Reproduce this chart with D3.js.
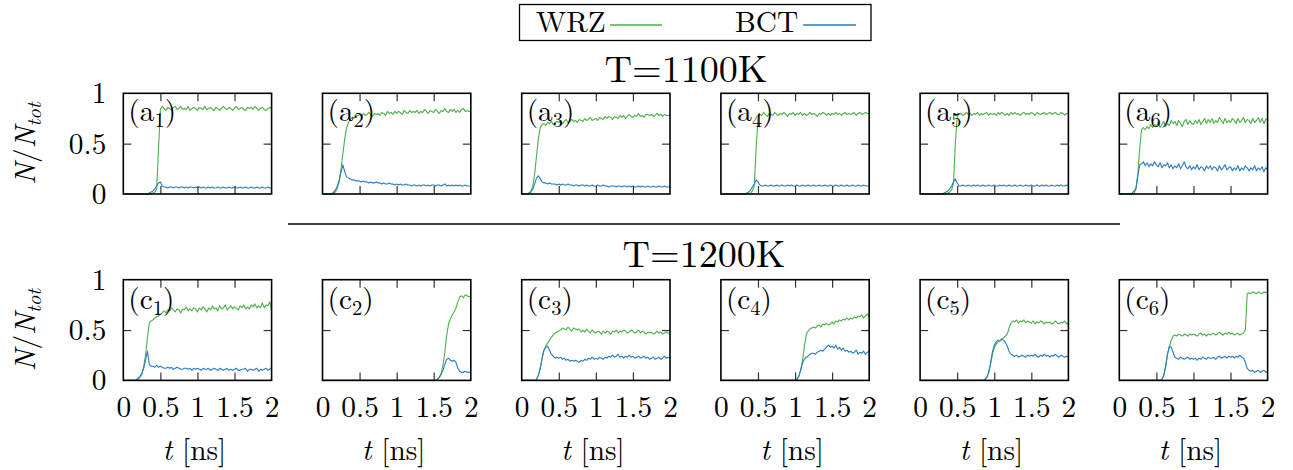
<!DOCTYPE html>
<html><head><meta charset="utf-8">
<script src="https://cdn.jsdelivr.net/npm/d3@7"></script>
<style>
body{margin:0;background:#fff}
svg text{font-family:"Latin Modern Roman","CMU Serif","FreeSerif",serif;fill:#000}
</style></head>
<body><svg id="c" width="1293" height="470"></svg>
<script>
// sampling grid (ns): 81 samples, 0 .. 2 ns
const times = d3.range(81).map(i => i * 0.025);
const xTicks = [0, 0.5, 1, 1.5, 2];
const yTicks = [0, 0.5, 1];
const xTickLabels = ["0", "0.5", "1", "1.5", "2"];
const yTickLabels = ["0", "0.5", "1"];
const seriesNames = ["WRZ", "BCT"];
const rowTitles = ["T=1100K", "T=1200K"];
const rowLetters = ["a", "c"];

// ---- T = 1100K ----
const wrzA1 = [0,0,0,0,0,0,0,0,0,0,
 0,0,0,0,0,0,.01,.02,.05,.45,
 .84,.87,.85,.83,.86,.85,.83,.86,.87,.84,
 .85,.87,.84,.85,.84,.87,.83,.85,.86,.85,
 .83,.86,.85,.84,.87,.84,.85,.86,.84,.83,
 .86,.85,.83,.85,.87,.85,.84,.86,.85,.83,
 .85,.87,.84,.85,.86,.84,.83,.86,.85,.86,
 .84,.87,.85,.83,.85,.86,.84,.83,.85,.86,
 .85];
const bctA1 = [0,0,0,0,0,0,0,0,0,0,
 0,0,0,0,.01,.02,.03,.05,.08,.11,
 .12,.08,.07,.07,.06,.07,.07,.06,.07,.07,
 .06,.07,.07,.06,.07,.06,.07,.07,.06,.07,
 .06,.07,.06,.07,.06,.06,.07,.06,.07,.06,
 .06,.07,.06,.06,.07,.06,.06,.07,.06,.06,
 .07,.06,.06,.07,.06,.06,.07,.06,.06,.07,
 .06,.06,.07,.06,.06,.07,.06,.06,.07,.06,
 .06];
const wrzA2 = [0,0,0,0,0,0,.01,.02,.06,.12,
 .25,.40,.55,.66,.71,.74,.76,.75,.77,.78,
 .79,.77,.80,.78,.79,.81,.79,.77,.80,.79,
 .80,.78,.81,.80,.78,.82,.80,.81,.79,.82,
 .80,.82,.81,.79,.83,.81,.80,.83,.81,.82,
 .81,.83,.80,.82,.81,.84,.82,.80,.83,.82,
 .81,.84,.82,.80,.83,.82,.85,.82,.81,.84,
 .82,.84,.81,.83,.81,.84,.85,.82,.83,.82,
 .83];
const bctA2 = [0,0,0,0,0,0,.02,.04,.08,.14,
 .22,.29,.22,.17,.16,.15,.14,.14,.13,.13,
 .13,.12,.13,.12,.12,.11,.12,.11,.11,.12,
 .11,.11,.10,.11,.10,.10,.11,.10,.10,.09,
 .10,.09,.10,.09,.09,.10,.09,.09,.08,.09,
 .09,.08,.09,.08,.09,.09,.08,.09,.08,.09,
 .09,.08,.09,.09,.08,.09,.10,.08,.09,.08,
 .09,.08,.09,.08,.09,.08,.08,.09,.08,.08,
 .08];
const wrzA3 = [0,0,0,0,.01,.03,.08,.20,.38,.55,
 .66,.69,.70,.68,.71,.70,.72,.69,.71,.72,
 .71,.73,.70,.72,.74,.71,.72,.74,.72,.73,
 .71,.74,.73,.72,.75,.73,.74,.76,.73,.74,
 .75,.73,.76,.75,.74,.77,.75,.77,.76,.74,
 .77,.76,.75,.78,.76,.78,.75,.77,.79,.77,
 .76,.78,.77,.80,.77,.78,.76,.79,.79,.78,
 .79,.77,.78,.80,.78,.79,.77,.79,.78,.78,
 .78];
const bctA3 = [0,0,0,0,.01,.02,.05,.10,.16,.18,
 .15,.12,.11,.11,.10,.11,.10,.10,.10,.09,
 .10,.09,.10,.09,.09,.10,.09,.09,.08,.09,
 .09,.08,.09,.09,.08,.09,.08,.08,.09,.08,
 .08,.09,.08,.08,.09,.08,.08,.07,.08,.08,
 .08,.07,.08,.08,.07,.08,.08,.07,.08,.07,
 .08,.07,.07,.08,.07,.08,.07,.07,.08,.07,
 .07,.08,.07,.07,.08,.07,.07,.08,.07,.07,
 .07];
const wrzA4 = [0,0,0,0,0,0,0,0,0,0,
 0,0,0,0,0,0,.01,.03,.08,.45,
 .76,.79,.78,.81,.79,.77,.80,.79,.78,.81,
 .79,.78,.80,.79,.81,.79,.77,.80,.79,.81,
 .78,.80,.79,.81,.78,.80,.78,.79,.81,.79,
 .80,.79,.77,.80,.79,.81,.80,.78,.80,.78,
 .80,.79,.81,.79,.80,.78,.80,.81,.79,.80,
 .79,.80,.81,.78,.80,.81,.79,.80,.81,.80,
 .80];
const bctA4 = [0,0,0,0,0,0,0,0,0,0,
 0,0,0,0,.01,.02,.04,.07,.10,.14,
 .12,.09,.08,.08,.09,.08,.08,.09,.08,.08,
 .09,.08,.08,.09,.08,.08,.09,.08,.09,.08,
 .08,.09,.08,.08,.09,.08,.08,.09,.08,.08,
 .09,.08,.08,.09,.08,.08,.09,.08,.08,.09,
 .08,.08,.09,.08,.08,.09,.08,.08,.09,.08,
 .08,.09,.08,.08,.09,.08,.08,.09,.08,.08,
 .08];
const wrzA5 = [0,0,0,0,0,0,0,0,0,0,
 0,0,0,0,0,.01,.02,.04,.10,.50,
 .77,.79,.80,.78,.79,.81,.79,.80,.78,.80,
 .79,.81,.78,.80,.79,.80,.81,.78,.80,.79,
 .80,.78,.81,.79,.81,.80,.78,.80,.78,.81,
 .79,.81,.79,.80,.78,.80,.81,.79,.80,.79,
 .81,.80,.78,.81,.80,.79,.80,.81,.79,.80,
 .81,.79,.80,.81,.79,.79,.81,.80,.78,.80,
 .80];
const bctA5 = [0,0,0,0,0,0,0,0,0,0,
 0,0,0,.01,.02,.03,.05,.08,.12,.15,
 .11,.08,.08,.09,.08,.08,.09,.08,.08,.09,
 .08,.09,.08,.08,.09,.08,.08,.09,.08,.08,
 .09,.08,.08,.09,.08,.09,.08,.08,.09,.08,
 .08,.09,.08,.08,.09,.08,.08,.09,.08,.08,
 .09,.08,.08,.09,.08,.08,.09,.08,.09,.08,
 .08,.09,.08,.08,.09,.08,.09,.08,.08,.09,
 .08];
const wrzA6 = [0,0,0,0,0,0,0,0,.01,.05,
 .20,.45,.64,.66,.64,.67,.65,.69,.66,.69,
 .67,.71,.66,.69,.72,.67,.70,.68,.73,.70,
 .72,.68,.73,.70,.67,.72,.74,.69,.73,.70,
 .69,.73,.70,.74,.69,.72,.75,.70,.74,.71,
 .75,.70,.73,.71,.76,.73,.70,.75,.71,.73,
 .71,.75,.73,.70,.75,.71,.73,.76,.71,.74,
 .73,.70,.75,.71,.73,.76,.71,.75,.70,.74,
 .75];
const bctA6 = [0,0,0,0,0,0,0,.01,.03,.06,
 .18,.29,.30,.32,.28,.31,.27,.30,.28,.32,
 .29,.27,.31,.26,.29,.28,.31,.26,.29,.25,
 .28,.26,.30,.25,.28,.32,.27,.25,.28,.24,
 .27,.25,.29,.24,.27,.26,.23,.28,.25,.28,
 .24,.27,.26,.23,.28,.24,.26,.29,.24,.26,
 .27,.23,.26,.24,.28,.23,.26,.24,.28,.26,
 .23,.26,.24,.28,.23,.26,.24,.27,.22,.26,
 .24];

// ---- T = 1200K ----
const wrzC1 = [0,0,0,0,0,0,0,0,.01,.03,
 .06,.14,.25,.42,.57,.59,.60,.62,.63,.64,
 .66,.67,.69,.67,.70,.69,.72,.70,.68,.71,
 .70,.67,.71,.70,.73,.69,.71,.69,.72,.71,
 .68,.72,.70,.73,.71,.68,.72,.70,.74,.71,
 .72,.69,.74,.71,.72,.75,.70,.72,.74,.71,
 .73,.72,.70,.74,.72,.75,.71,.73,.71,.75,
 .73,.76,.72,.74,.72,.77,.72,.75,.74,.78,
 .69];
const bctC1 = [0,0,0,0,0,0,0,.01,.02,.04,
 .07,.12,.20,.29,.16,.14,.14,.13,.15,.13,
 .14,.13,.12,.12,.13,.12,.13,.11,.12,.13,
 .12,.11,.11,.12,.12,.11,.12,.10,.12,.11,
 .12,.11,.10,.12,.11,.11,.12,.10,.11,.12,
 .11,.10,.12,.11,.10,.11,.12,.10,.11,.10,
 .11,.12,.10,.10,.11,.11,.12,.09,.11,.11,
 .10,.11,.12,.09,.11,.10,.11,.12,.10,.11,
 .13];
const wrzC2 = [0,0,0,0,0,0,0,0,0,0,
 0,0,0,0,0,0,0,0,0,0,
 0,0,0,0,0,0,0,0,0,0,
 0,0,0,0,0,0,0,0,0,0,
 0,0,0,0,0,0,0,0,0,0,
 0,0,0,0,0,0,0,0,0,0,
 0,0,.01,.03,.07,.15,.28,.45,.56,.61,
 .65,.68,.72,.78,.83,.84,.82,.85,.84,.83,
 .84];
const bctC2 = [0,0,0,0,0,0,0,0,0,0,
 0,0,0,0,0,0,0,0,0,0,
 0,0,0,0,0,0,0,0,0,0,
 0,0,0,0,0,0,0,0,0,0,
 0,0,0,0,0,0,0,0,0,0,
 0,0,0,0,0,0,0,0,0,0,
 0,0,.01,.03,.06,.10,.16,.21,.22,.20,
 .19,.20,.18,.12,.09,.08,.08,.09,.08,.08,
 .08];
const wrzC3 = [0,0,0,0,0,0,0,0,.01,.05,
 .12,.22,.30,.34,.37,.40,.43,.45,.47,.48,
 .49,.50,.52,.51,.50,.53,.51,.49,.52,.51,
 .50,.51,.48,.50,.48,.51,.49,.47,.50,.48,
 .47,.49,.48,.46,.49,.47,.49,.48,.46,.49,
 .48,.50,.47,.49,.48,.50,.49,.47,.48,.50,
 .49,.47,.48,.50,.47,.49,.48,.46,.48,.47,
 .48,.46,.47,.49,.47,.48,.46,.47,.48,.47,
 .47];
const bctC3 = [0,0,0,0,0,0,0,0,.01,.05,
 .12,.22,.30,.33,.34,.30,.26,.24,.22,.23,
 .22,.23,.21,.22,.20,.21,.19,.20,.19,.20,
 .19,.18,.20,.19,.21,.20,.22,.21,.23,.21,
 .22,.21,.23,.22,.21,.23,.22,.24,.23,.25,
 .23,.24,.26,.23,.24,.22,.24,.23,.25,.23,
 .24,.22,.23,.24,.22,.23,.24,.22,.23,.21,
 .22,.23,.21,.22,.23,.21,.22,.24,.22,.23,
 .22];
const wrzC4 = [0,0,0,0,0,0,0,0,0,0,
 0,0,0,0,0,0,0,0,0,0,
 0,0,0,0,0,0,0,0,0,0,
 0,0,0,0,0,0,0,0,0,0,
 0,.01,.04,.10,.20,.33,.45,.49,.51,.52,
 .53,.52,.54,.55,.53,.56,.55,.57,.55,.56,
 .58,.56,.59,.58,.60,.59,.61,.60,.62,.60,
 .62,.61,.63,.62,.64,.63,.65,.62,.64,.66,
 .63];
const bctC4 = [0,0,0,0,0,0,0,0,0,0,
 0,0,0,0,0,0,0,0,0,0,
 0,0,0,0,0,0,0,0,0,0,
 0,0,0,0,0,0,0,0,0,0,
 0,.01,.04,.10,.17,.21,.23,.24,.26,.27,
 .27,.26,.28,.29,.30,.29,.31,.33,.35,.33,
 .34,.32,.35,.31,.33,.30,.32,.29,.30,.28,
 .29,.27,.28,.30,.26,.28,.27,.29,.26,.28,
 .29];
const wrzC5 = [0,0,0,0,0,0,0,0,0,0,
 0,0,0,0,0,0,0,0,0,0,
 0,0,0,0,0,0,0,0,0,0,
 0,0,0,0,0,.01,.03,.08,.16,.26,
 .32,.36,.38,.39,.41,.42,.44,.46,.52,.57,
 .59,.58,.60,.57,.59,.58,.60,.57,.59,.58,
 .57,.59,.56,.58,.57,.59,.58,.56,.58,.57,
 .58,.56,.57,.59,.57,.56,.58,.57,.59,.56,
 .57];
const bctC5 = [0,0,0,0,0,0,0,0,0,0,
 0,0,0,0,0,0,0,0,0,0,
 0,0,0,0,0,0,0,0,0,0,
 0,0,0,0,0,.01,.03,.08,.17,.28,
 .35,.38,.40,.39,.41,.40,.38,.34,.29,.26,
 .25,.24,.25,.23,.24,.25,.24,.23,.25,.24,
 .25,.24,.26,.24,.23,.25,.24,.26,.24,.25,
 .23,.25,.24,.26,.24,.23,.25,.24,.23,.24,
 .23];
const wrzC6 = [0,0,0,0,0,0,0,0,0,0,
 0,0,0,0,0,0,0,0,0,0,
 0,0,0,.01,.05,.14,.26,.33,.40,.44,
 .45,.44,.46,.45,.44,.46,.45,.44,.46,.45,
 .46,.45,.44,.46,.47,.45,.46,.44,.46,.45,
 .46,.47,.45,.46,.48,.46,.45,.47,.46,.48,
 .46,.47,.45,.46,.47,.45,.46,.47,.50,.86,
 .87,.86,.88,.87,.86,.88,.87,.86,.88,.87,
 .88];
const bctC6 = [0,0,0,0,0,0,0,0,0,0,
 0,0,0,0,0,0,0,0,0,0,
 0,0,0,.01,.05,.14,.26,.34,.33,.28,
 .23,.22,.21,.23,.22,.21,.22,.23,.21,.22,
 .21,.22,.20,.22,.21,.23,.22,.21,.23,.22,
 .22,.23,.21,.23,.24,.22,.23,.24,.22,.24,
 .23,.24,.22,.24,.23,.25,.23,.22,.18,.12,
 .10,.09,.10,.08,.09,.10,.08,.09,.10,.08,
 .09];

const rows = [
  [[wrzA1,bctA1],[wrzA2,bctA2],[wrzA3,bctA3],[wrzA4,bctA4],[wrzA5,bctA5],[wrzA6,bctA6]],
  [[wrzC1,bctC1],[wrzC2,bctC2],[wrzC3,bctC3],[wrzC4,bctC4],[wrzC5,bctC5],[wrzC6,bctC6]]
];

// ---- layout ----
const colors = ["#4daf4a", "#2c7bbf"];
const left0 = 123.3, step = 199.2, pw = 148.3, ph = 100.7;
const rowTop = [93.3, 279.7];
const labelBase = [28, 29];

const svg = d3.select("#c");

function measure(str, size, italic) {
  const t = svg.append("text").attr("font-size", size).text(str);
  if (italic) t.attr("font-style", "italic");
  const w = t.node().getComputedTextLength();
  t.remove();
  return w;
}
const fs = Math.max(22, Math.min(31, 100 * 37.5 / measure("0.5", 100)));
const tfs = Math.max(32, Math.min(42, 100 * 163 / measure("T=1100K", 100)));
const sfs = fs * 0.7;

rows.forEach((row, r) => {
  row.forEach((pair, c) => {
    const x0 = left0 + c * step, y0 = rowTop[r];
    const x = d3.scaleLinear().domain([0, 2]).range([x0, x0 + pw]);
    const y = d3.scaleLinear().domain([0, 1]).range([y0 + ph, y0]);
    const g = svg.append("g");
    const line = d3.line().x((d, i) => x(times[i])).y(d => y(d));
    pair.forEach((vals, s) => {
      g.append("path").datum(vals.slice(0, times.length)).attr("d", line)
        .attr("fill", "none").attr("stroke", colors[s]).attr("stroke-width", 1.1)
        .attr("stroke-linejoin", "round");
    });
    const inner = [
      [d3.axisBottom(x).tickValues([0.5, 1, 1.5]), 0, y0 + ph],
      [d3.axisTop(x).tickValues([0.5, 1, 1.5]), 0, y0],
      [d3.axisLeft(y).tickValues([0.5]), x0, 0],
      [d3.axisRight(y).tickValues([0.5]), x0 + pw, 0]
    ];
    inner.forEach(([ax, tx, ty]) => {
      const a = g.append("g").attr("transform", `translate(${tx},${ty})`)
        .call(ax.tickSize(-8).tickFormat(""));
      a.select(".domain").remove();
      a.selectAll("line").attr("stroke", "#333").attr("stroke-width", 1.2);
    });
    g.append("rect").attr("x", x0).attr("y", y0).attr("width", pw).attr("height", ph)
      .attr("fill", "none").attr("stroke", "#000").attr("stroke-width", 1.6);

    if (c === 0) {
      const a = g.append("g").attr("transform", `translate(${x0},0)`)
        .call(d3.axisLeft(y).tickValues(yTicks).tickSize(0).tickPadding(17)
          .tickFormat((d, i) => yTickLabels[i]));
      a.select(".domain").remove();
      a.attr("font-family", null);
      a.selectAll("text").attr("font-size", fs);
    }
    if (r === 1) {
      const a = g.append("g").attr("transform", `translate(0,${y0 + ph})`)
        .call(d3.axisBottom(x).tickValues(xTicks).tickSize(0).tickPadding(16)
          .tickFormat((d, i) => xTickLabels[i]));
      a.select(".domain").remove();
      a.attr("font-family", null);
      a.selectAll("text").attr("font-size", fs);
      const t = g.append("text").attr("x", x0 + pw / 2 - 3).attr("y", 460)
        .attr("text-anchor", "middle").attr("font-size", fs);
      t.append("tspan").attr("font-style", "italic").text("t");
      t.append("tspan").text(" [ns]");
    }
    const lt = g.append("text").attr("x", x0 + 5).attr("y", y0 + labelBase[r])
      .attr("font-size", fs);
    lt.append("tspan").text("(" + rowLetters[r]);
    lt.append("tspan").attr("font-size", sfs).attr("dy", 6).text(String(c + 1));
    lt.append("tspan").attr("dy", -6).text(")");
  });
  const cy = rowTop[r] + ph / 2;
  const yl = svg.append("text").attr("transform", `translate(35,${cy}) rotate(-90)`)
    .attr("text-anchor", "middle").attr("font-size", fs);
  yl.append("tspan").attr("font-style", "italic").text("N");
  yl.append("tspan").text("/");
  yl.append("tspan").attr("font-style", "italic").text("N");
  yl.append("tspan").attr("font-style", "italic").attr("font-size", sfs).attr("dy", 6).text("tot");
});

svg.append("text").attr("x", 686).attr("y", 82).attr("text-anchor", "middle")
  .attr("font-size", tfs).text(rowTitles[0]);
svg.append("text").attr("x", 704).attr("y", 267).attr("text-anchor", "middle")
  .attr("font-size", tfs).text(rowTitles[1]);
svg.append("line").attr("x1", 288).attr("x2", 1120).attr("y1", 224).attr("y2", 224)
  .attr("stroke", "#000").attr("stroke-width", 1.6);

const lg = svg.append("g");
lg.append("rect").attr("x", 519.5).attr("y", 4.5).attr("width", 351.5).attr("height", 36)
  .attr("fill", "#fff").attr("stroke", "#000").attr("stroke-width", 1.3);
const legendItems = [
  {name: seriesNames[0], tx: 536, lx1: 610, lx2: 662},
  {name: seriesNames[1], tx: 735, lx1: 803, lx2: 856}
];
legendItems.forEach((d, i) => {
  lg.append("text").attr("x", d.tx).attr("y", 32.3).attr("font-size", fs).text(d.name);
  lg.append("line").attr("x1", d.lx1).attr("x2", d.lx2).attr("y1", 25).attr("y2", 25)
    .attr("stroke", colors[i]).attr("stroke-width", 1.6);
});
</script>
</body></html>
